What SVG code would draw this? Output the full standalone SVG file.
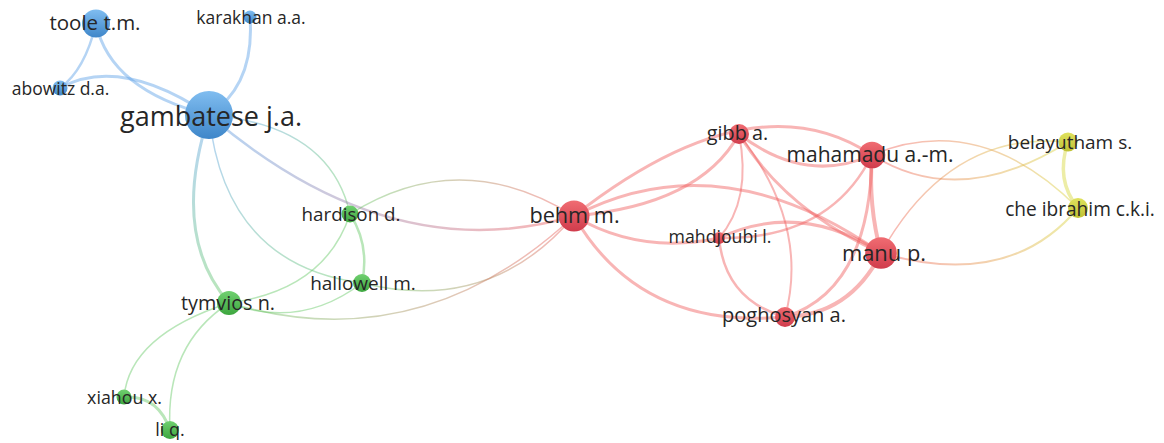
<svg xmlns="http://www.w3.org/2000/svg" width="1164" height="443" viewBox="0 0 1164 443">
<style>
text{font-family:"Open Sans","Liberation Sans",sans-serif;fill:#262626;text-anchor:middle}
.e{fill:none;stroke-linecap:round;stroke-opacity:.45}
.b{stroke:#5aa0e6}.g{stroke:#64c864}.r{stroke:#f05a5a}.y{stroke:#d8d83a}
</style>
<defs>
<linearGradient id="nb" x1="0" y1="0" x2="0" y2="1"><stop offset="0" stop-color="#80bdf0"/><stop offset="1" stop-color="#3e86c9"/></linearGradient>
<linearGradient id="ng" x1="0" y1="0" x2="0" y2="1"><stop offset="0" stop-color="#70d070"/><stop offset="1" stop-color="#3da63f"/></linearGradient>
<linearGradient id="nr" x1="0" y1="0" x2="0" y2="1"><stop offset="0" stop-color="#f06c72"/><stop offset="1" stop-color="#d03c4c"/></linearGradient>
<linearGradient id="ny" x1="0" y1="0" x2="0" y2="1"><stop offset="0" stop-color="#e0e25e"/><stop offset="1" stop-color="#bfc134"/></linearGradient>
<linearGradient id="g1" gradientUnits="userSpaceOnUse" x1="209" y1="115" x2="229" y2="303"><stop offset="0" stop-color="#5aa0e6"/><stop offset="1" stop-color="#64c864"/></linearGradient>
<linearGradient id="g2" gradientUnits="userSpaceOnUse" x1="209" y1="115" x2="362" y2="283"><stop offset="0" stop-color="#5aa0e6"/><stop offset="1" stop-color="#64c864"/></linearGradient>
<linearGradient id="g3" gradientUnits="userSpaceOnUse" x1="209" y1="115" x2="350" y2="214"><stop offset="0" stop-color="#5aa0e6"/><stop offset="1" stop-color="#64c864"/></linearGradient>
<linearGradient id="g4" gradientUnits="userSpaceOnUse" x1="209" y1="115" x2="574" y2="216"><stop offset="0" stop-color="#5aa0e6"/><stop offset="1" stop-color="#f05a5a"/></linearGradient>
<linearGradient id="g5" gradientUnits="userSpaceOnUse" x1="350" y1="214" x2="574" y2="216"><stop offset="0" stop-color="#64c864"/><stop offset="1" stop-color="#f05a5a"/></linearGradient>
<linearGradient id="g6" gradientUnits="userSpaceOnUse" x1="362" y1="283" x2="574" y2="216"><stop offset="0" stop-color="#64c864"/><stop offset="1" stop-color="#f05a5a"/></linearGradient>
<linearGradient id="g7" gradientUnits="userSpaceOnUse" x1="229" y1="303" x2="574" y2="216"><stop offset="0" stop-color="#64c864"/><stop offset="1" stop-color="#f05a5a"/></linearGradient>
<linearGradient id="g8" gradientUnits="userSpaceOnUse" x1="872" y1="155" x2="1068" y2="142"><stop offset="0" stop-color="#f05a5a"/><stop offset="1" stop-color="#d8d83a"/></linearGradient>
<linearGradient id="g9" gradientUnits="userSpaceOnUse" x1="872" y1="155" x2="1078" y2="208"><stop offset="0" stop-color="#f05a5a"/><stop offset="1" stop-color="#d8d83a"/></linearGradient>
<linearGradient id="g10" gradientUnits="userSpaceOnUse" x1="881" y1="253" x2="1068" y2="142"><stop offset="0" stop-color="#f05a5a"/><stop offset="1" stop-color="#d8d83a"/></linearGradient>
<linearGradient id="g11" gradientUnits="userSpaceOnUse" x1="881" y1="253" x2="1078" y2="208"><stop offset="0" stop-color="#f05a5a"/><stop offset="1" stop-color="#d8d83a"/></linearGradient>
</defs>
<rect width="1164" height="443" fill="#fff"/>
<g id="connectors">
<path class="e b" stroke-width="3" d="M96,23.5 Q110,90 209,115"/>
<path class="e b" stroke-width="2.5" d="M96,23.5 Q85,70 60,88"/>
<path class="e b" stroke-width="3" d="M60,88 Q120,55 209,115"/>
<path class="e b" stroke-width="3" d="M250,17 Q255,85 209,115"/>
<path class="e" stroke="url(#g1)" stroke-width="3" d="M209,115 Q170,235 229,303"/>
<path class="e" stroke="url(#g2)" stroke-width="1.5" d="M209,115 Q225,265 362,283"/>
<path class="e" stroke="url(#g3)" stroke-width="1.5" d="M209,115 Q330,125 350,214"/>
<path class="e" stroke="url(#g4)" stroke-width="2.5" d="M209,115 Q390,270 574,216"/>
<path class="e g" stroke-width="2.5" d="M350,214 Q370,245 362,283"/>
<path class="e g" stroke-width="1.5" d="M350,214 Q325,290 229,303"/>
<path class="e g" stroke-width="1.5" d="M229,303 Q300,330 362,283"/>
<path class="e g" stroke-width="1.5" d="M229,303 Q130,335 124,397"/>
<path class="e g" stroke-width="1.5" d="M229,303 Q165,345 170,430"/>
<path class="e g" stroke-width="3" d="M124,397 Q158,395 170,430"/>
<path class="e" stroke="url(#g5)" stroke-width="1.5" d="M350,214 Q460,145 574,216"/>
<path class="e" stroke="url(#g6)" stroke-width="1.5" d="M362,283 Q490,315 574,216"/>
<path class="e" stroke="url(#g7)" stroke-width="1.5" d="M229,303 Q420,360 574,216"/>
<path class="e r" stroke-width="3" d="M574,216 Q753,76 872,155"/>
<path class="e r" stroke-width="3" d="M574,216 Q700,205 739,134"/>
<path class="e r" stroke-width="3" d="M574,216 Q720,140 881,253"/>
<path class="e r" stroke-width="3" d="M574,216 Q640,255 719,238"/>
<path class="e r" stroke-width="3" d="M574,216 Q640,330 785,317"/>
<path class="e r" stroke-width="2.5" d="M719,238 Q830,240 872,155"/>
<path class="e r" stroke-width="3" d="M719,238 Q800,200 881,253"/>
<path class="e r" stroke-width="2.5" d="M719,238 Q725,300 785,317"/>
<path class="e r" stroke-width="2" d="M739,134 Q752,200 719,238"/>
<path class="e r" stroke-width="2" d="M739,134 Q810,225 785,317"/>
<path class="e r" stroke-width="3" d="M739,134 Q785,210 881,253"/>
<path class="e r" stroke-width="3" d="M739,134 Q805,185 872,155"/>
<path class="e r" stroke-width="4" d="M872,155 Q868,205 881,253"/>
<path class="e r" stroke-width="3" d="M872,155 Q870,290 785,317"/>
<path class="e r" stroke-width="4" d="M881,253 Q850,315 785,317"/>
<path class="e" stroke="url(#g8)" stroke-width="2" d="M872,155 Q960,210 1068,142"/>
<path class="e" stroke="url(#g9)" stroke-width="1.5" d="M872,155 Q980,110 1078,208"/>
<path class="e" stroke="url(#g10)" stroke-width="1.5" d="M881,253 Q950,130 1068,142"/>
<path class="e" stroke="url(#g11)" stroke-width="2" d="M881,253 Q1010,290 1078,208"/>
<path class="e y" stroke-width="3.5" stroke-opacity=".6" d="M1068,142 Q1055,180 1078,208"/>
</g>
<g id="n-toole"><circle cx="96" cy="23.5" r="14" fill="url(#nb)"/><text x="95" y="30" font-size="20.5">toole t.m.</text></g>
<g id="n-karakhan"><circle cx="250" cy="17" r="6.5" fill="url(#nb)"/><text x="251" y="24" font-size="17.5">karakhan a.a.</text></g>
<g id="n-abowitz"><circle cx="60" cy="88" r="7.5" fill="url(#nb)"/><text x="60.5" y="95" font-size="17.5">abowitz d.a.</text></g>
<g id="n-gambatese"><circle cx="209" cy="115" r="24" fill="url(#nb)"/><text x="211" y="126" font-size="27">gambatese j.a.</text></g>
<g id="n-hardison"><circle cx="350" cy="214" r="8.5" fill="url(#ng)"/><text x="351" y="221" font-size="18.8">hardison d.</text></g>
<g id="n-hallowell"><circle cx="362" cy="283" r="9" fill="url(#ng)"/><text x="363" y="290" font-size="19">hallowell m.</text></g>
<g id="n-tymvios"><circle cx="229" cy="303" r="12" fill="url(#ng)"/><text x="228" y="310" font-size="19.8">tymvios n.</text></g>
<g id="n-xiahou"><circle cx="124" cy="397" r="7.5" fill="url(#ng)"/><text x="124.5" y="404" font-size="17.8">xiahou x.</text></g>
<g id="n-li"><circle cx="170" cy="430" r="9" fill="url(#ng)"/><text x="170" y="436" font-size="18">li q.</text></g>
<g id="n-behm"><circle cx="574" cy="216" r="15.5" fill="url(#nr)"/><text x="574.5" y="223" font-size="21.7">behm m.</text></g>
<g id="n-gibb"><circle cx="739" cy="134" r="10" fill="url(#nr)"/><text x="737.5" y="140" font-size="19.8">gibb a.</text></g>
<g id="n-mahdjoubi"><circle cx="719" cy="238" r="6" fill="url(#nr)"/><text x="720" y="243" font-size="17.7">mahdjoubi l.</text></g>
<g id="n-mahamadu"><circle cx="872" cy="155" r="13.3" fill="url(#nr)"/><text x="870" y="161.5" font-size="21">mahamadu a.-m.</text></g>
<g id="n-manu"><circle cx="881" cy="253" r="15.8" fill="url(#nr)"/><text x="884" y="261" font-size="21.9">manu p.</text></g>
<g id="n-poghosyan"><circle cx="785" cy="317" r="10" fill="url(#nr)"/><text x="784" y="322" font-size="20">poghosyan a.</text></g>
<g id="n-belayutham"><circle cx="1068" cy="142" r="9.5" fill="url(#ny)"/><text x="1070" y="149" font-size="19">belayutham s.</text></g>
<g id="n-cheibrahim"><circle cx="1078" cy="208" r="10" fill="url(#ny)"/><text x="1080" y="215.5" font-size="19.1">che ibrahim c.k.i.</text></g>
</svg>
